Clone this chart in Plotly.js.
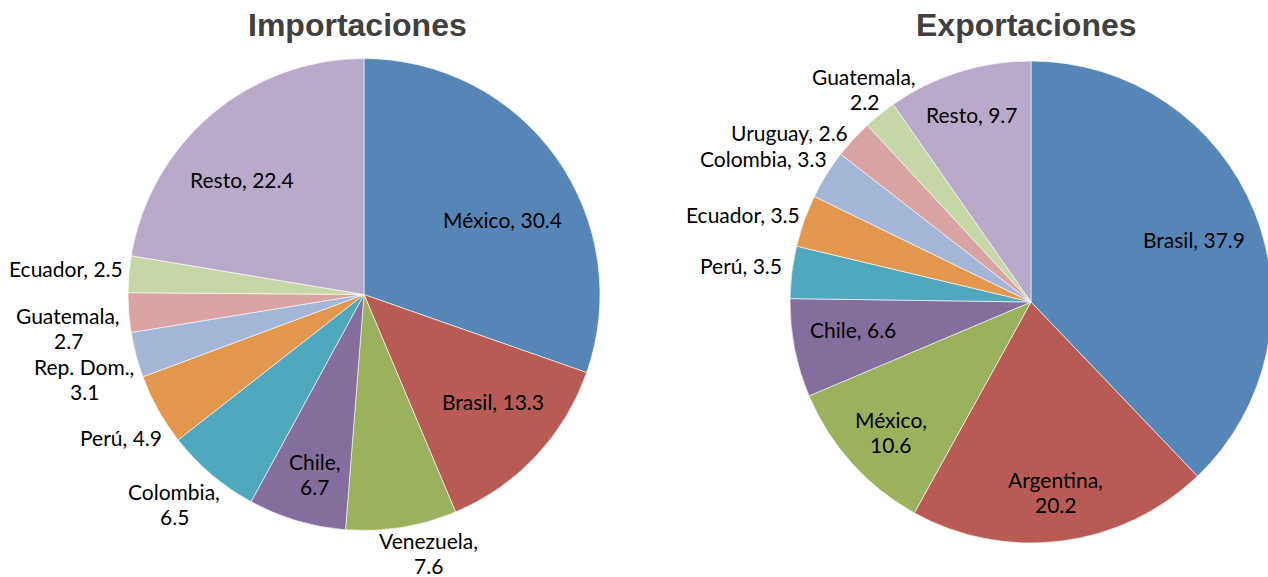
<!DOCTYPE html>
<html>
<head>
<meta charset="utf-8">
<script src="https://cdn.plot.ly/plotly-3.0.1.min.js"></script>
<style>
  html, body { margin: 0; padding: 0; background: #ffffff; overflow: hidden; }
  #chart { width: 1274px; height: 577px; }
</style>
</head>
<body>
<div id="chart"></div>
<script>
// ---------------- DATA ----------------
const impTitle = 'Importaciones';
const impLabels = ['México', 'Brasil', 'Venezuela', 'Chile', 'Colombia', 'Perú', 'Rep. Dom.', 'Guatemala', 'Ecuador', 'Resto'];
const impValues = [30.4, 13.3, 7.6, 6.7, 6.5, 4.9, 3.1, 2.7, 2.5, 22.4];

const expTitle = 'Exportaciones';
const expLabels = ['Brasil', 'Argentina', 'México', 'Chile', 'Perú', 'Ecuador', 'Colombia', 'Uruguay', 'Guatemala', 'Resto'];
const expValues = [37.9, 20.2, 10.6, 6.6, 3.5, 3.5, 3.3, 2.6, 2.2, 9.7];

// ---------------- STYLE ----------------
const sliceColors = ['#5586B7', '#B95B55', '#9BB15E', '#846E9E', '#4FA8BE',
                     '#E3964D', '#A4B7D8', '#D9A4A3', '#C6D6A7', '#B9AAC9'];
// label line-break flags (1 = value on second line)
const impWrap = [0, 0, 1, 1, 1, 0, 1, 1, 0, 0];
const expWrap = [0, 1, 1, 0, 0, 0, 0, 0, 1, 0];
// label placement relative to each slice: [angle offset from slice mid-angle (deg), distance as fraction of radius]
const impLabelPos = [[7.6, 0.661], [-2.9, 0.718], [-4.8, 1.138], [-1.4, 0.80], [1.5, 1.206],
                     [-1.7, 1.201], [-2.4, 1.241], [-2.5, 1.262], [-0.4, 1.265], [-7.0, 0.703]];
const expLabelPos = [[1.6, 0.719], [0.0, 0.807], [-1.6, 0.80], [1.4, 0.751], [-0.5, 1.212],
                     [-3.2, 1.245], [-4.2, 1.254], [-7.9, 1.219], [0.4, 1.114], [-0.3, 0.804]];

const W = 1274, H = 577;
const LABEL_FONT = 'Lato, "Open Sans", sans-serif';
const LABEL_SIZE = 21;
const LINE_GAP = 25;      // px between label lines
const VCORR = -2.5;       // annotation box centre vs visual cap centre
const TITLE_FONT = 'Arial, "Liberation Sans", Helvetica, sans-serif';
const TITLE_SIZE = 32;

const charts = [
  { title: impTitle, labels: impLabels, values: impValues, wrap: impWrap, pos: impLabelPos,
    titleX: 357.5, domX: [128 / W, 600 / W], domY: [46.5 / H, 518.5 / H] },
  { title: expTitle, labels: expLabels, values: expValues, wrap: expWrap, pos: expLabelPos,
    titleX: 1026.5, domX: [789 / W, 1273 / W], domY: [34 / H, 516 / H] }
];

const traces = [];
const annotations = [];

charts.forEach((c) => {
  traces.push({
    type: 'pie',
    labels: c.labels,
    values: c.values,
    sort: false,
    direction: 'clockwise',
    rotation: 0,
    textinfo: 'none',
    hoverinfo: 'label+value',
    showlegend: false,
    marker: { colors: sliceColors, line: { color: 'rgba(255,255,255,0.85)', width: 0.7 } },
    domain: { x: c.domX, y: c.domY }
  });

  // pie geometry in pixels (margins are zero)
  const wpx = (c.domX[1] - c.domX[0]) * W;
  const hpx = (c.domY[1] - c.domY[0]) * H;
  const r = Math.min(wpx, hpx) / 2;
  const cx = (c.domX[0] + c.domX[1]) / 2 * W;
  const cy = (1 - (c.domY[0] + c.domY[1]) / 2) * H;
  const total = c.values.reduce((a, b) => a + b, 0);

  let cum = 0;
  c.values.forEach((v, i) => {
    const midDeg = (cum + v / 2) / total * 360;
    cum += v;
    const ang = (midDeg + c.pos[i][0]) * Math.PI / 180;
    const dist = c.pos[i][1] * r;
    const px = cx + Math.sin(ang) * dist;
    const py = cy - Math.cos(ang) * dist;
    const vs = v.toFixed(1);
    const lines = c.wrap[i] ? [c.labels[i] + ',', vs] : [c.labels[i] + ', ' + vs];
    lines.forEach((ln, j) => {
      const ly = py + (j - (lines.length - 1) / 2) * LINE_GAP + VCORR;
      annotations.push({
        x: px / W, y: 1 - ly / H, xref: 'paper', yref: 'paper',
        xanchor: 'center', yanchor: 'middle', showarrow: false,
        text: ln, align: 'center',
        font: { family: LABEL_FONT, size: LABEL_SIZE, color: '#000000' }
      });
    });
  });

  annotations.push({
    x: c.titleX / W, y: 1 - 25.5 / H, xref: 'paper', yref: 'paper',
    xanchor: 'center', yanchor: 'middle', showarrow: false,
    text: '<b>' + c.title + '</b>',
    font: { family: TITLE_FONT, size: TITLE_SIZE, color: '#404040' }
  });
});

const layout = {
  width: W, height: H,
  margin: { l: 0, r: 0, t: 0, b: 0, pad: 0 },
  paper_bgcolor: '#ffffff',
  plot_bgcolor: '#ffffff',
  showlegend: false,
  annotations: annotations
};

Plotly.newPlot('chart', traces, layout, { displayModeBar: false, responsive: false });
</script>
</body>
</html>
